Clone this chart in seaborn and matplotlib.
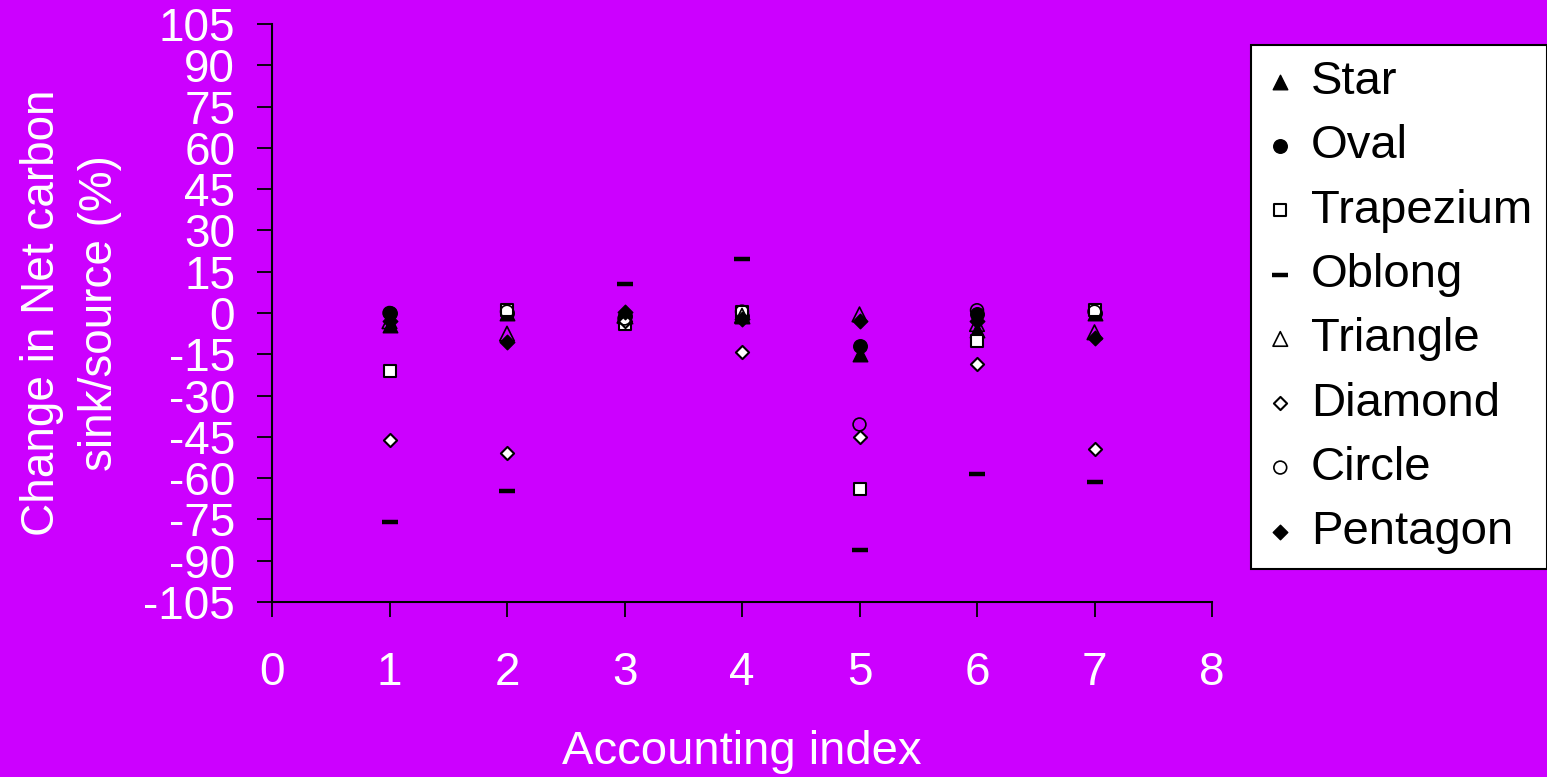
import matplotlib
matplotlib.use('Agg')
import matplotlib.pyplot as plt
import seaborn as sns

# accounting index on the x axis
index = [1, 2, 3, 4, 5, 6, 7]

# change in net carbon sink/source (%) per shape
star = [-4.5, 0, -1, -1, -15, -6, 0]
oval = [0, 0, -1, -1, -12, -0.5, 0]
trapezium = [-21, 1, -4, 0.5, -64, -10, 1]
oblong = [-76, -64.5, 10.5, 19.5, -86, -58.5, -61.5]
triangle = [-3, -7.5, -1, -1, -0.5, -4, -7]
diamond = [-46, -51, -3, -14, -45, -18.5, -49.5]
circle = [0, 0.5, -2, 0.5, -40.5, 1, 0.5]
pentagon = [-3, -10.5, 0.5, -2, -3, -3, -9]

names = ['Star', 'Oval', 'Trapezium', 'Oblong', 'Triangle', 'Diamond', 'Circle', 'Pentagon']
series = [star, oval, trapezium, oblong, triangle, diamond, circle, pentagon]

yticks = list(range(-105, 106, 15))
xticks = list(range(0, 9))

bg = '#cc00ff'

sns.set_style('white')
plt.rcParams['font.family'] = ['Liberation Sans', 'DejaVu Sans']
plt.rcParams['axes.unicode_minus'] = False

# marker, face colour, size, line width
styles = {
    'Star': ('^', 'black', 110, 1.0),
    'Oval': ('o', 'black', 95, 1.0),
    'Trapezium': ('s', 'white', 80, 1.5),
    'Oblong': ('_', 'black', 140, 3.2),
    'Triangle': ('^', 'none', 110, 1.2),
    'Diamond': ('D', 'white', 45, 1.5),
    'Circle': ('o', 'none', 85, 1.2),
    'Pentagon': ('D', 'black', 55, 1.0),
}

fig = plt.figure(figsize=(15.47, 7.77), dpi=100, facecolor=bg)
ax = fig.add_axes([272 / 1547, 1 - 602 / 777, 940 / 1547, 578 / 777])
ax.set_facecolor(bg)

for name, vals in zip(names, series):
    m, fc, s, lw = styles[name]
    sns.scatterplot(x=index, y=vals, ax=ax, marker=m, s=s, color='black',
                    facecolor=fc, edgecolor='black', linewidth=lw,
                    label=name, zorder=3)

ax.set_xlim(0, 8)
ax.set_ylim(-105, 105)
ax.set_xticks(xticks)
ax.set_yticks(yticks)

for side in ['top', 'right']:
    ax.spines[side].set_visible(False)
for side in ['left', 'bottom']:
    ax.spines[side].set_color('black')
    ax.spines[side].set_linewidth(1.5)

ax.tick_params(axis='both', colors='black', direction='out', length=10.5, width=1.3,
               labelsize=33, labelcolor='white')
ax.tick_params(axis='x', pad=25, bottom=True)
ax.tick_params(axis='y', pad=16, left=True)

ax.set_xlabel('Accounting index', fontsize=34, color='white')
ax.xaxis.set_label_coords(0.5, -0.222)
ax.set_ylabel('Change in Net carbon\nsink/source (%)', fontsize=33, color='white',
              linespacing=1.4)
ax.yaxis.set_label_coords(-0.16, 0.5)

leg = ax.legend(loc='upper left', bbox_to_anchor=(1251 / 1547, 1 - 45 / 777),
                bbox_transform=fig.transFigure, fontsize=34, frameon=True,
                fancybox=False, framealpha=1, facecolor='white', edgecolor='black',
                borderaxespad=0, borderpad=0.32, labelspacing=0.43,
                handlelength=0.6, handletextpad=0.35, scatterpoints=1)
leg.get_frame().set_linewidth(1.5)
for t in leg.get_texts():
    t.set_color('black')

fig.savefig('out.png', dpi=100, facecolor=bg)
